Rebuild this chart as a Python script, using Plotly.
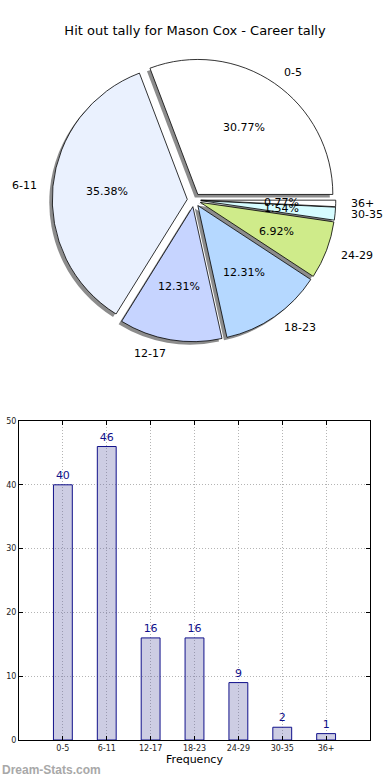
import math
import plotly.graph_objects as go

# ---------------- data ----------------
categories = ["0-5", "6-11", "12-17", "18-23", "24-29", "30-35", "36+"]
tally = [40, 46, 16, 16, 9, 2, 1]
slice_colors = ["#ffffff", "#eaf1fe", "#c6d4ff", "#b5d8ff", "#cfeb8a", "#d6fcff", "#ffffff"]
chart_title = "Hit out tally for Mason Cox - Career tally"
bar_axis_title = "Frequency"
y_ticks = [0, 10, 20, 30, 40, 50]
watermark = "Dream-Stats.com"

# ---------------- layout geometry ----------------
W, H = 390, 780
ML, MR, MT, MB = 19, 20, 0, 40
PW, PH = W - ML - MR, H - MT - MB
FONT = "DejaVu Sans"

def paper(px, py):
    return (px - ML) / PW, (PH - (py - MT)) / PH

total = sum(tally)
PULL = 0.05
CX, CY, R = 194, 200, 135
half = R * (1 + PULL)
x0, y0 = paper(CX - half, CY + half)
x1, y1 = paper(CX + half, CY - half)
SH = 3  # shadow offset in px
sx0, sy0 = paper(CX - half - SH, CY + half + SH)
sx1, sy1 = paper(CX + half - SH, CY - half + SH)

# plotly: counterclockwise pies put the first slice clockwise of `rotation`;
# shift so that the first slice starts at 3 o'clock and runs counterclockwise
rot = 90 - tally[0] / total * 360

fig = go.Figure()

# shadow pie
fig.add_trace(go.Pie(
    labels=categories, values=tally, sort=False, direction="counterclockwise",
    rotation=rot, pull=[PULL] * len(tally),
    marker=dict(colors=["#8c8c8c"] * len(tally), line=dict(width=0)),
    textinfo="none", hoverinfo="skip", showlegend=False,
    domain=dict(x=[sx0, sx1], y=[sy0, sy1]),
))
# main pie
fig.add_trace(go.Pie(
    labels=categories, values=tally, sort=False, direction="counterclockwise",
    rotation=rot, pull=[PULL] * len(tally),
    marker=dict(colors=slice_colors, line=dict(color="black", width=0.8)),
    textinfo="none", showlegend=False,
    domain=dict(x=[x0, x1], y=[y0, y1]),
))

# pie text annotations (computed from the values)
annotations = []
start = 0.0
for cat, v in zip(categories, tally):
    sweep = v / total * 360.0
    mid = math.radians(start + sweep / 2)
    c, s = math.cos(mid), math.sin(mid)
    px, py = CX + R * (0.6 + PULL) * c, CY - R * (0.6 + PULL) * s
    ax, ay = paper(px, py)
    annotations.append(dict(x=ax, y=ay, xref="paper", yref="paper",
                            text=f"{v / total * 100:.2f}%", showarrow=False,
                            xanchor="center", yanchor="middle",
                            font=dict(family=FONT, size=11, color="black")))
    lx, ly = CX + R * (1.1 + PULL) * c, CY - R * (1.1 + PULL) * s
    bx, by = paper(lx, ly)
    annotations.append(dict(x=bx, y=by, xref="paper", yref="paper",
                            text=cat, showarrow=False,
                            xanchor="left" if c >= 0 else "right", yanchor="middle",
                            font=dict(family=FONT, size=11, color="black")))
    start += sweep

# bar chart
fig.add_trace(go.Bar(
    x=list(range(len(categories))), y=tally, width=0.43,
    marker=dict(color="rgba(102,102,170,0.33)", line=dict(color="#10108a", width=1)),
    text=[str(v) for v in tally], textposition="outside", cliponaxis=False,
    textfont=dict(family=FONT, size=11, color="#10108a"),
    showlegend=False, xaxis="x", yaxis="y",
))

wx, wy = paper(0, 770)
annotations.append(dict(x=wx, y=wy, xref="paper", yref="paper", text=watermark,
                        showarrow=False, xanchor="left", yanchor="middle",
                        font=dict(family="Liberation Sans", size=12, color="#a8a8a8", weight="bold")))

grid = dict(showgrid=True, gridcolor="#b4b4b4", griddash="1px,2px", gridwidth=1)
fig.update_layout(
    width=W, height=H,
    margin=dict(l=ML, r=MR, t=MT, b=MB, autoexpand=False),
    paper_bgcolor="white", plot_bgcolor="white",
    font=dict(family=FONT, color="black"),
    title=dict(text=chart_title, x=0.5, xref="container", xanchor="center",
               y=1 - 30 / H, yref="container", yanchor="middle", automargin=False,
               font=dict(family=FONT, size=13, color="black")),
    annotations=annotations,
    xaxis=dict(domain=[0, 1], range=[-1, len(categories)], automargin=False,
               tickmode="array", tickvals=list(range(len(categories))), ticktext=categories,
               **grid,
               showline=True, linecolor="black", linewidth=1, mirror="ticks",
               ticks="inside", ticklen=4, tickcolor="black",
               tickfont=dict(family=FONT, size=8, color="#222"),
               title=dict(text=bar_axis_title, standoff=2, font=dict(family=FONT, size=11)),
               zeroline=False),
    yaxis=dict(domain=[0, (PH - (421 - MT)) / PH], range=[0, 50], automargin=False,
               tickmode="array", tickvals=y_ticks,
               **grid,
               showline=True, linecolor="black", linewidth=1, mirror="ticks",
               ticks="inside", ticklen=4, tickcolor="black",
               tickfont=dict(family=FONT, size=8, color="#222"),
               zeroline=False),
)

fig.write_html("out.html", config={"displayModeBar": False},
               post_script="document.body.style.margin='0';document.body.style.overflow='hidden';")
